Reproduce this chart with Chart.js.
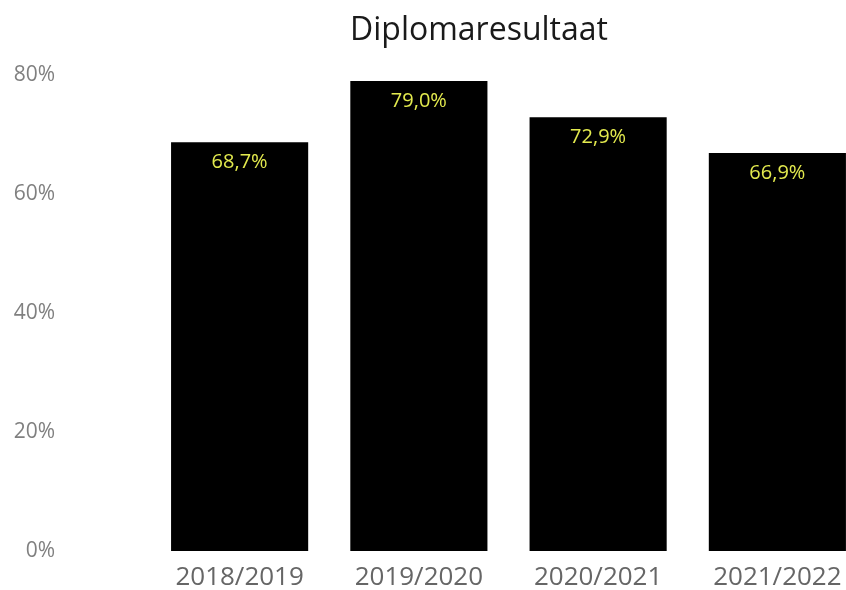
<!DOCTYPE html>
<html>
<head>
<meta charset="utf-8">
<script src="https://cdn.jsdelivr.net/npm/chart.js@4"></script>
<style>
  html, body { margin: 0; padding: 0; background: #fff; overflow: hidden; }
  canvas { display: block; }
</style>
</head>
<body>
<canvas id="barChart" width="870" height="590"></canvas>
<script>
const schoolYears = ["2018/2019", "2019/2020", "2020/2021", "2021/2022"];
const diplomaRates = [68.7, 79.0, 72.9, 66.9];
const yTicks = [0, 20, 40, 60, 80];
const chartTitle = "Diplomaresultaat";

const FONT = "'Open Sans', 'Noto Sans', sans-serif";

// title drawn at a fixed spot, it sits off-centre in the original
const titlePlugin = {
  id: "titleText",
  afterDraw(chart) {
    const ctx = chart.ctx;
    ctx.save();
    ctx.font = "32px " + FONT;
    ctx.fillStyle = "#1a1a1a";
    ctx.textAlign = "center";
    ctx.textBaseline = "alphabetic";
    ctx.fillText(chartTitle, 479, 40);
    ctx.restore();
  },
};

const valueLabels = {
  id: "valueLabels",
  afterDatasetsDraw(chart) {
    const ctx = chart.ctx;
    const meta = chart.getDatasetMeta(0);
    ctx.save();
    ctx.font = "20px " + FONT;
    ctx.fillStyle = "#e3ea4e";
    ctx.textAlign = "center";
    ctx.textBaseline = "middle";
    meta.data.forEach((bar, i) => {
      const txt = diplomaRates[i].toFixed(1).replace(".", ",") + "%";
      ctx.fillText(txt, bar.x, bar.y + 20);
    });
    ctx.restore();
  },
};

const ctx = document.getElementById("barChart").getContext("2d");
const chart = new Chart(ctx, {
  type: "bar",
  data: {
    labels: schoolYears,
    datasets: [
      {
        label: chartTitle,
        data: diplomaRates,
        backgroundColor: "#000000",
        borderWidth: 0,
        barPercentage: 0.765,
        categoryPercentage: 1.0,
      },
    ],
  },
  options: {
    responsive: false,
    animation: false,
    layout: {
      padding: { left: 0, right: 3, top: 75, bottom: 0 },
    },
    plugins: {
      legend: { display: false },
      title: { display: false },
      tooltip: { enabled: false },
    },
    scales: {
      x: {
        grid: { display: false, drawTicks: false },
        border: { display: false },
        ticks: {
          color: "#666",
          font: { family: FONT, size: 26 },
          padding: 11,
          maxRotation: 0,
        },
        afterFit(scale) {
          scale.height = 39;
        },
      },
      y: {
        min: 0,
        max: 80,
        grid: { display: false, drawTicks: false },
        border: { display: false },
        afterBuildTicks(scale) {
          scale.ticks = yTicks.map((v) => ({ value: v }));
        },
        ticks: {
          color: "#808080",
          font: { family: FONT, size: 21 },
          padding: 95,
          callback: (v) => v + "%",
        },
        afterFit(scale) {
          // big tick padding would otherwise push the plot down
          scale.width = 150;
          scale.paddingTop = 0;
          scale.paddingBottom = 0;
        },
      },
    },
  },
  plugins: [titlePlugin, valueLabels],
});
</script>
</body>
</html>
